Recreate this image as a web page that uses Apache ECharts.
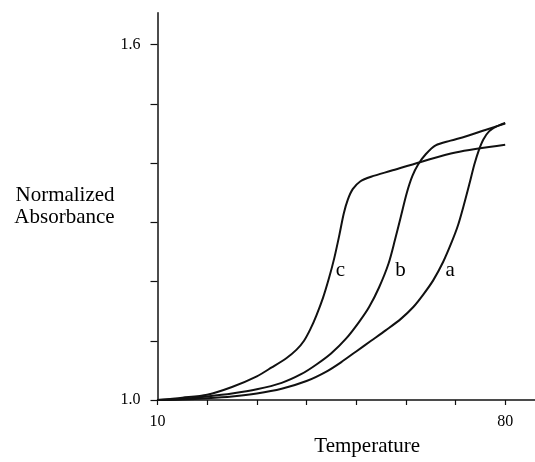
<!DOCTYPE html>
<html>
<head>
<meta charset="utf-8">
<script src="https://cdn.jsdelivr.net/npm/echarts@6/dist/echarts.min.js"></script>
<style>
  html, body { margin: 0; padding: 0; background: #fff; }
  #chart { width: 535px; height: 462px; }
</style>
</head>
<body>
<div id="chart"></div>
<script>
// curve a (rightmost)
var aTemp = [10, 15, 20, 25, 30, 35, 40, 44, 47, 50, 53, 56, 59, 61.5, 63.5, 65.5, 67.5, 69.2, 70.5, 71.7, 72.8, 73.8, 74.7, 75.6, 76.8, 78.3, 80];
var aAbs  = [1.000, 1.001, 1.003, 1.006, 1.011, 1.019, 1.032, 1.048, 1.064, 1.082, 1.100, 1.118, 1.137, 1.157, 1.178, 1.202, 1.233, 1.266, 1.295, 1.330, 1.365, 1.398, 1.422, 1.440, 1.454, 1.462, 1.468];

// curve b (middle)
var bTemp = [10, 15, 20, 25, 30, 35, 39, 42, 45, 48, 50.6, 52.6, 54.6, 56.5, 57.8, 59, 60.2, 61.3, 62.5, 64, 66, 69, 72, 76, 80];
var bAbs  = [1.000, 1.002, 1.006, 1.011, 1.018, 1.029, 1.044, 1.060, 1.079, 1.104, 1.132, 1.157, 1.190, 1.230, 1.270, 1.310, 1.350, 1.378, 1.398, 1.415, 1.430, 1.438, 1.445, 1.456, 1.467];

// curve c (leftmost)
var cTemp = [10, 15, 20, 25, 30, 33, 36, 38, 39.5, 40.8, 42, 43.3, 44.5, 45.6, 46.6, 47.5, 48.3, 49.3, 50.8, 53, 57, 63, 70, 80];
var cAbs  = [1.000, 1.004, 1.009, 1.022, 1.040, 1.055, 1.071, 1.085, 1.100, 1.120, 1.143, 1.172, 1.205, 1.240, 1.278, 1.315, 1.338, 1.356, 1.369, 1.377, 1.387, 1.402, 1.418, 1.431];

// curve labels
var curveNames = ['a', 'b', 'c'];
var labelTemp = [68.9, 58.9, 46.8];
var labelAbs = [1.218, 1.218, 1.218];

var xTicks = [10, 20, 30, 40, 50, 60, 70, 80];
var xLabels = [10, 80];
var yTicks = [1.0, 1.1, 1.2, 1.3, 1.4, 1.5, 1.6];
var yLabels = [1.0, 1.6];

function pairs(xs, ys) {
  return xs.map(function (x, i) { return [x, ys[i]]; });
}

var font = 'Liberation Serif';
var chart = echarts.init(document.getElementById('chart'), null, { renderer: 'canvas' });

function curve(name, xs, ys) {
  return {
    name: name,
    type: 'line',
    data: pairs(xs, ys),
    showSymbol: false,
    smooth: 0.3,
    lineStyle: { color: '#111', width: 2 }
  };
}

var option = {
  backgroundColor: '#ffffff',
  animation: false,
  grid: { left: 157.5, right: -7.5, top: 12.7, bottom: 58 },
  xAxis: {
    type: 'value',
    min: 10,
    max: 86,
    name: 'Temperature',
    nameLocation: 'middle',
    nameGap: 36,
    nameTextStyle: { fontFamily: font, fontSize: 21, color: '#000', padding: [0, 0, 0, 42] },
    axisLine: { lineStyle: { color: '#111', width: 1.5 } },
    axisTick: { show: true, inside: false, length: 5, customValues: xTicks, lineStyle: { color: '#111', width: 1.2 } },
    axisLabel: { customValues: xLabels, margin: 14, fontFamily: font, fontSize: 16, color: '#000' },
    splitLine: { show: false }
  },
  yAxis: {
    type: 'value',
    min: 1.0,
    max: 1.654,
    name: 'Normalized\nAbsorbance',
    nameLocation: 'middle',
    nameRotate: 0,
    nameGap: 41,
    nameTextStyle: { fontFamily: font, fontSize: 21, lineHeight: 22, color: '#000', align: 'right', padding: [0, 0, 22, 0] },
    axisLine: { show: true, lineStyle: { color: '#111', width: 1.5 } },
    axisTick: { show: true, inside: false, length: 7, customValues: yTicks, lineStyle: { color: '#111', width: 1.2 } },
    axisLabel: {
      customValues: yLabels,
      margin: 17,
      fontFamily: font,
      fontSize: 16,
      color: '#000',
      formatter: function (v) { return v.toFixed(1); }
    },
    splitLine: { show: false }
  },
  series: [
    curve('a', aTemp, aAbs),
    curve('b', bTemp, bAbs),
    curve('c', cTemp, cAbs),
    {
      type: 'scatter',
      symbolSize: 0,
      silent: true,
      itemStyle: { opacity: 1 },
      data: curveNames.map(function (n, i) { return [labelTemp[i], labelAbs[i], n]; }),
      label: {
        show: true,
        position: 'inside',
        formatter: function (p) { return p.value[2]; },
        fontFamily: font,
        fontSize: 21,
        color: '#000',
        opacity: 1
      }
    }
  ]
};

chart.setOption(option);
</script>
</body>
</html>
